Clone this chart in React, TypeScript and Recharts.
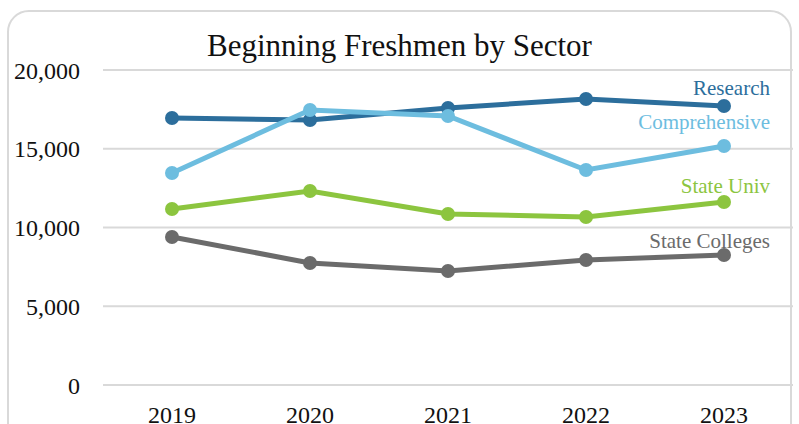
import React from 'react';
import { LineChart, Line, XAxis, YAxis, CartesianGrid, LabelList } from 'recharts';

const years = ['2019', '2020', '2021', '2022', '2023'];
const research = [16950, 16830, 17590, 18160, 17710];
const comprehensive = [13460, 17460, 17080, 13650, 15170];
const stateUniv = [11170, 12320, 10860, 10670, 11620];
const stateColleges = [9400, 7750, 7240, 7940, 8250];
const yTicks = [0, 5000, 10000, 15000, 20000];

const data = years.map((y, i) => ({
  year: y,
  Research: research[i],
  Comprehensive: comprehensive[i],
  'State Univ': stateUniv[i],
  'State Colleges': stateColleges[i],
}));

const FONT = '"Liberation Serif", "DejaVu Serif", serif';

const series = [
  { key: 'Research', color: '#2C6E9C', dy: -18 },
  { key: 'Comprehensive', color: '#6DBDDF', dy: -24 },
  { key: 'State Univ', color: '#8CC53F', dy: -16 },
  { key: 'State Colleges', color: '#6B6B6B', dy: -14 },
];

const makeLabel = (name: string, color: string, dy: number) => (props: any) => {
  const { x, y, index } = props;
  if (index !== years.length - 1) return null;
  return (
    <text x={x + 46} y={y + dy} textAnchor="end" dominantBaseline="central" fill={color} fontSize={21} fontFamily={FONT}>
      {name}
    </text>
  );
};

export default function App() {
  return (
    <div style={{ position: 'absolute', left: 0, top: 0, width: 799, height: 424, background: '#fff', overflow: 'hidden' }}>
      <div style={{ position: 'absolute', left: 7, top: 10, width: 785, height: 440, border: '2px solid #d9d9d9', borderRadius: 22, boxSizing: 'border-box' }} />
      <div style={{ position: 'absolute', left: 0, width: 799, top: 28, textAlign: 'center', fontFamily: FONT, fontSize: 31, color: '#111', lineHeight: '36px' }}>
        Beginning Freshmen by Sector
      </div>
      <div style={{ position: 'absolute', left: 0, top: 0 }}>
        <LineChart width={799} height={424} data={data} margin={{ top: 70, right: 6, bottom: 0, left: 0 }}>
          <CartesianGrid vertical={false} stroke="#d9d9d9" strokeWidth={2} />
          <XAxis dataKey="year" axisLine={false} tickLine={false} tickSize={0} tickMargin={21} height={39}
            padding={{ left: 69, right: 69 }} interval={0}
            tick={{ fill: '#111', fontSize: 24, fontFamily: FONT }} />
          <YAxis domain={[0, 20000]} ticks={yTicks} axisLine={false} tickLine={false} tickSize={0} tickMargin={23} width={103}
            tickFormatter={(v: number) => v.toLocaleString('en-US')}
            tick={{ fill: '#111', fontSize: 24, fontFamily: FONT }} />
          {series.map((s) => (
            <Line key={s.key} dataKey={s.key} stroke={s.color} strokeWidth={5} isAnimationActive={false}
              dot={{ r: 7, fill: s.color, stroke: s.color, strokeWidth: 0 }} activeDot={false}>
              <LabelList dataKey={s.key} content={makeLabel(s.key, s.color, s.dy)} />
            </Line>
          ))}
        </LineChart>
      </div>
    </div>
  );
}
